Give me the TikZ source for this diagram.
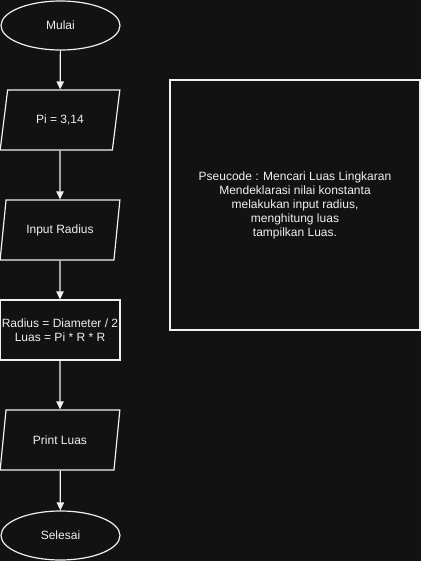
\documentclass[tikz,border=0pt]{standalone}
\usepackage{fontspec}
\setmainfont{Liberation Sans}
\usetikzlibrary{shapes.geometric,arrows.meta}
\definecolor{bg}{HTML}{121212}
\definecolor{fg}{HTML}{F0F0F0}
\begin{document}
\begin{tikzpicture}[x=0.75pt,y=-0.75pt,
  base/.style={draw=fg,line width=0.9pt,text=fg,font=\fontsize{9}{10.5}\selectfont,align=center,inner sep=0pt},
  term/.style={base,ellipse,minimum width=119*0.75pt,minimum height=49*0.75pt},
  io/.style={base,trapezium,trapezium left angle=71.6,trapezium right angle=108.4,minimum width=120*0.75pt,minimum height=60*0.75pt,trapezium stretches=true},
  proc/.style={base,rectangle,minimum width=120*0.75pt,minimum height=60*0.75pt},
  note/.style={base,rectangle,minimum width=250*0.75pt,minimum height=250*0.75pt},
  arr/.style={draw=fg,line width=0.9pt,-{Triangle[length=6pt,width=5.5pt]}}]
\fill[bg] (0,0) rectangle (421,561);
\useasboundingbox (0,0) rectangle (421,561);
\node[term] (mulai) at (60.5,25.5) {Mulai};
\node[io] (pi) at (60,120) {Pi = 3,14};
\node[io] (input) at (60,230) {Input Radius};
\node[proc] (calc) at (60,330) {Radius = Diameter / 2\\Luas = Pi * R * R};
\node[io] (print) at (60,440) {Print Luas};
\node[term] (selesai) at (60.5,535.5) {Selesai};
\node[note] (pseudo) at (295,205) {Pseucode : Mencari Luas Lingkaran\\Mendeklarasi nilai konstanta\\melakukan input radius,\\menghitung luas\\tampilkan Luas.};
\draw[arr] (mulai) -- (pi);
\draw[arr] (pi) -- (input);
\draw[arr] (input) -- (calc);
\draw[arr] (calc) -- (print);
\draw[arr] (print) -- (selesai);
\end{tikzpicture}
\end{document}
